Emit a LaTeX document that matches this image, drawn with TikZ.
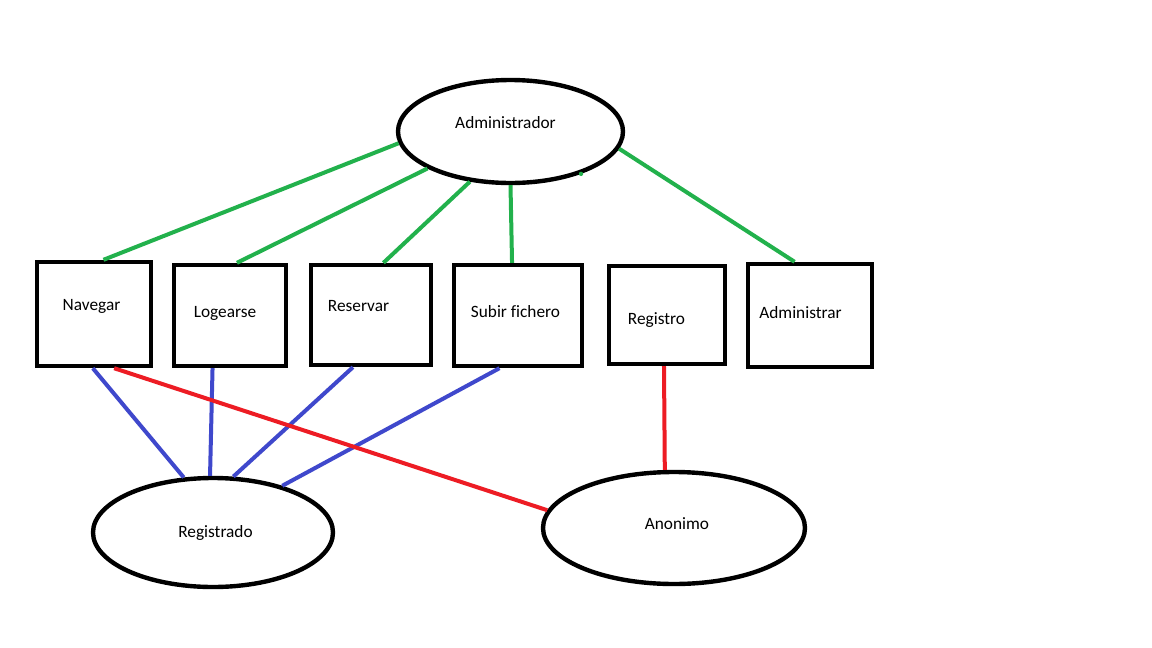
\documentclass[tikz,border=0pt]{standalone}
\usepackage{fontspec}
\setmainfont{Carlito}[Ligatures=NoCommon]
\usetikzlibrary{shapes.geometric,calc}
\definecolor{pgreen}{HTML}{22B14C}
\definecolor{pblue}{HTML}{3F48CC}
\definecolor{pred}{HTML}{ED1C24}
\begin{document}
\begin{tikzpicture}[x=1pt,y=-1pt,
  box/.style={draw=black,line width=4.4pt,rectangle,inner sep=0pt},
  oval/.style={draw=black,line width=4.4pt,ellipse,inner sep=0pt},
  lbl/.style={anchor=base,inner sep=0pt,font=\fontsize{17.3}{20}\selectfont},
  gl/.style={draw=pgreen,line width=4pt},
  bl/.style={draw=pblue,line width=4pt},
  rl/.style={draw=pred,line width=4pt}]
\fill[white] (0,0) rectangle (1152,648);
\useasboundingbox (0,0) rectangle (1152,648);
% ellipses
\node[oval,minimum width=225pt,minimum height=103pt] (adm) at (510.5,131.5) {};
\node[oval,minimum width=240pt,minimum height=109pt] (reg) at (213,532.5) {};
\node[oval,minimum width=262pt,minimum height=112pt] (ano) at (674,528) {};
% boxes
\node[box,minimum width=114pt,minimum height=104pt] (nav) at (94,314) {};
\node[box,minimum width=112pt,minimum height=101pt] (log) at (230,315.5) {};
\node[box,minimum width=120pt,minimum height=100pt] (res) at (371,315) {};
\node[box,minimum width=128pt,minimum height=101pt] (sub) at (518,315.5) {};
\node[box,minimum width=116pt,minimum height=98pt] (rgt) at (667,315) {};
\node[box,minimum width=124pt,minimum height=103pt] (adr) at (810,315.5) {};
% labels
\node[lbl] (tadm) at (505.5,128) {Administrador};
\node[lbl] (tnav) at (91.5,310) {Navegar};
\node[lbl] (tlog) at (225,317) {Logearse};
\node[lbl] (tres) at (358.5,311) {Reservar};
\node[lbl] (tsub) at (515.5,317) {Subir fichero};
\node[lbl] (trgt) at (656.5,324) {Registro};
\node[lbl] (tadr) at (800.5,318) {Administrar};
\node[lbl] (treg) at (215.5,537) {Registrado};
\node[lbl] (tano) at (677,529) {Anonimo};
% green connectors
\draw[gl] (adm.186.9) -- ($(nav.north west)!0.58!(nav.north east)$);
\draw[gl] (adm.204) -- ($(log.north west)!0.56!(log.north east)$);
\draw[gl] (adm.231.3) -- ($(res.north west)!0.60!(res.north east)$);
\draw[gl] (adm.270) -- ($(sub.north west)!0.455!(sub.north east)$);
\draw[gl] (adm.351.4) -- ($(adr.north west)!0.38!(adr.north east)$);
\fill[pgreen] (adm.329.7) circle (2.2pt);
% blue connectors
\draw[bl] ($(nav.south west)!0.49!(nav.south east)$) -- (reg.118.6);
\draw[bl] ($(log.south west)!0.35!(log.south east)$) -- (reg.93);
\draw[bl] ($(res.south west)!0.355!(res.south east)$) -- (reg.70.3);
\draw[bl] ($(sub.south west)!0.36!(sub.south east)$) -- (reg.34.7);
% red connectors
\draw[rl] ($(nav.south west)!0.67!(nav.south east)$) -- (ano.172.3);
\draw[rl] ($(rgt.south west)!0.475!(rgt.south east)$) -- (ano.99.8);
\end{tikzpicture}
\end{document}
